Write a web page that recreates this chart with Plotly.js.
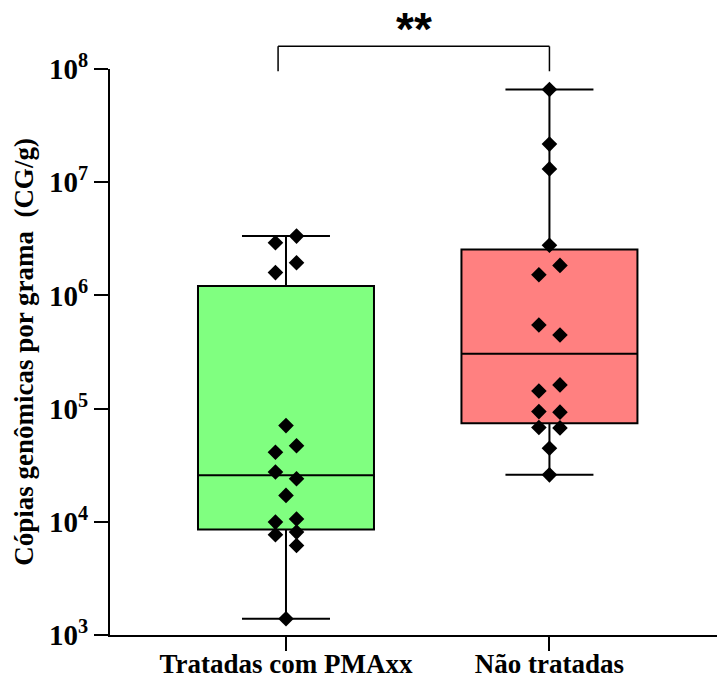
<!DOCTYPE html>
<html>
<head>
<meta charset="utf-8">
<script src="https://cdn.plot.ly/plotly-3.0.1.min.js"></script>
<style>html,body{margin:0;padding:0;background:#fff;}#chart{width:718px;height:679px;}</style>
</head>
<body>
<div id="chart"></div>
<script>
// Category labels
const categories = ["Tratadas com PMAxx", "Não tratadas"];

// Individual values (CG/g)
const treatedValues = [3.34e6, 2.92e6, 1.94e6, 1.59e6, 7.08e4, 4.69e4, 4.12e4, 2.75e4,
                       2.40e4, 1.71e4, 1.06e4, 9.94e3, 8.11e3, 7.68e3, 6.18e3, 1.39e3];
// Horizontal arrangement of each dot (-1 left, 0 centre, 1 right)
const treatedSide   = [1, -1, 1, -1, 0, 1, -1, -1, 1, 0, 1, -1, 1, -1, 1, 0];

const untreatedValues = [6.59e7, 2.17e7, 1.31e7, 2.77e6, 1.84e6, 1.52e6, 5.48e5, 4.47e5,
                         1.62e5, 1.43e5, 9.41e4, 9.30e4, 6.80e4, 6.75e4, 4.47e4, 2.60e4];
const untreatedSide   = [0, 0, 0, 0, 1, -1, -1, 1, 1, -1, -1, 1, -1, 1, 0, 0];

// Y tick labels
const yTickVals = [1e3, 1e4, 1e5, 1e6, 1e7, 1e8];
const yTickText = ["10<sup>3</sup>", "10<sup>4</sup>", "10<sup>5</sup>", "10<sup>6</sup>", "10<sup>7</sup>", "10<sup>8</sup>"];

const yTitle = "Cópias genômicas por grama  (CG/g)";
const significance = "**";

// Quartiles with the (n+1)p rule
function quantile(vals, p) {
  const s = vals.slice().sort((a, b) => a - b);
  const n = s.length;
  const pos = (n + 1) * p;
  const lo = Math.floor(pos);
  const frac = pos - lo;
  if (lo < 1) return s[0];
  if (lo >= n) return s[n - 1];
  return s[lo - 1] + frac * (s[lo] - s[lo - 1]);
}
function stats(vals) {
  return {
    min: Math.min(...vals), max: Math.max(...vals),
    q1: quantile(vals, 0.25), med: quantile(vals, 0.5), q3: quantile(vals, 0.75)
  };
}

const groups = [
  {vals: treatedValues, side: treatedSide, fill: "#80FF80"},
  {vals: untreatedValues, side: untreatedSide, fill: "#FF8080"}
];

const traces = [];
const spread = 0.04;
groups.forEach((g, i) => {
  const st = stats(g.vals);
  traces.push({
    type: "box", x: [i], q1: [st.q1], median: [st.med], q3: [st.q3],
    lowerfence: [st.min], upperfence: [st.max],
    width: 0.668, whiskerwidth: 0.5,
    fillcolor: g.fill, line: {color: "#000", width: 2},
    boxpoints: false, hoverinfo: "skip", showlegend: false
  });
});
groups.forEach((g, i) => {
  traces.push({
    type: "scatter", mode: "markers",
    x: g.side.map(s => i + s * spread), y: g.vals,
    marker: {symbol: "diamond", size: 12, color: "#000", line: {width: 0}},
    showlegend: false, hoverinfo: "skip"
  });
});

const serif = "Liberation Serif";
const b = t => "<b>" + t + "</b>";

const layout = {
  width: 718, height: 679,
  margin: {l: 110, r: 1, t: 69, b: 44},
  paper_bgcolor: "#fff", plot_bgcolor: "#fff",
  showlegend: false,
  font: {family: serif, color: "#000"},
  xaxis: {
    range: [-0.668, 1.636], showgrid: false, zeroline: false,
    showline: true, linecolor: "#000", linewidth: 2,
    tickmode: "array", tickvals: [0, 1], ticktext: categories.map(b),
    ticks: "outside", ticklen: 14, tickwidth: 2, tickcolor: "#000",
    ticklabelstandoff: -10,
    tickfont: {family: serif, size: 27, color: "#000"}
  },
  yaxis: {
    type: "log", range: [3, 8], showgrid: false, zeroline: false,
    showline: true, linecolor: "#000", linewidth: 2,
    tickmode: "array", tickvals: yTickVals, ticktext: yTickText.map(b),
    ticks: "outside", ticklen: 14, tickwidth: 2, tickcolor: "#000",
    tickfont: {family: serif, size: 29, color: "#000"},
    title: {text: b(yTitle), standoff: 8,
            font: {family: serif, size: 27, color: "#000"}}
  },
  shapes: [
    {type: "line", xref: "x", yref: "paper", x0: -0.03, x1: -0.03, y0: 0.996, y1: 1.04, line: {color: "#000", width: 1.5}},
    {type: "line", xref: "x", yref: "paper", x0: -0.03, x1: 1.0, y0: 1.04, y1: 1.04, line: {color: "#000", width: 1.5}},
    {type: "line", xref: "x", yref: "paper", x0: 1.0, x1: 1.0, y0: 0.996, y1: 1.04, line: {color: "#000", width: 1.5}}
  ],
  annotations: [
    {text: b(significance), xref: "x", yref: "paper", x: 0.485, y: 1.07, showarrow: false,
     yanchor: "middle", font: {family: "Liberation Sans", size: 46, color: "#000"}}
  ]
};

Plotly.newPlot("chart", traces, layout, {displayModeBar: false, staticPlot: true});
</script>
</body>
</html>
